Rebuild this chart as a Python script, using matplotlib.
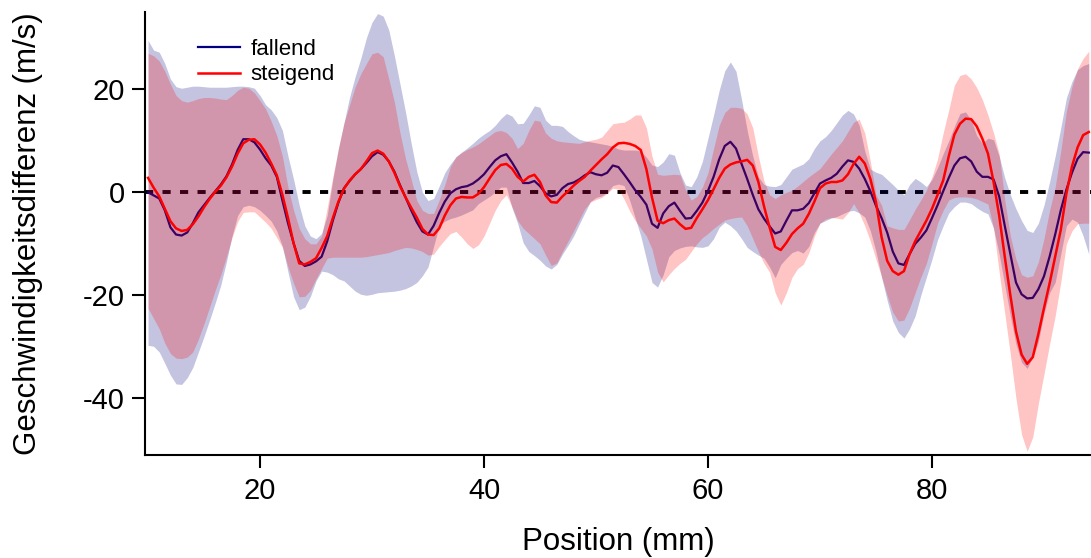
import matplotlib
matplotlib.use("Agg")
import matplotlib.pyplot as plt
import numpy as np

plt.rcParams.update({
    "font.family": ["Liberation Sans", "DejaVu Sans"],
    "font.size": 21,
    "axes.unicode_minus": False,
})

# position grid (mm), 0.5 mm steps from 10 to 94
position = np.arange(10.0, 94.01, 0.5)

# fallend: mean and band (m/s)
fallend_mean = [
    0.0, -0.6, -1.2, -3.5, -6.8, -8.2, -8.4, -7.8, -6.0, -3.9,
    -2.5, -1.1, 0.2, 1.5, 3.1, 5.4, 8.2, 10.3, 10.3, 9.7,
    8.3, 6.6, 5.2, 3.0, -1.6, -6.0, -9.9, -13.3, -14.3, -14.0,
    -13.4, -12.5, -9.5, -5.5, -2.0, 0.8, 2.2, 3.5, 4.5, 5.7,
    7.0, 7.8, 7.3, 6.0, 4.0, 1.4, -1.0, -3.5, -5.8, -7.6,
    -8.2, -6.5, -4.0, -1.8, -0.2, 0.6, 1.0, 1.2, 1.7, 2.5,
    3.5, 4.9, 6.2, 7.0, 7.4, 5.8, 4.0, 1.8, 1.8, 2.2,
    1.2, -0.2, -0.8, -0.5, 0.8, 1.6, 1.9, 2.5, 3.3, 3.9,
    3.5, 3.3, 3.8, 5.2, 4.9, 3.5, 2.0, 0.4, -0.9, -2.4,
    -6.1, -6.9, -4.1, -2.7, -2.0, -3.6, -5.1, -5.0, -3.6, -2.0,
    0.3, 3.0, 6.4, 9.0, 9.8, 8.5, 5.5, 2.6, -0.5, -3.3,
    -5.1, -6.6, -8.0, -7.6, -5.5, -3.5, -3.5, -3.2, -2.1, -0.2,
    1.7, 2.3, 2.8, 3.6, 5.0, 6.2, 5.9, 4.6, 2.6, 0.2,
    -2.6, -5.0, -7.8, -11.5, -13.8, -14.1, -12.0, -10.0, -8.8, -7.4,
    -5.0, -2.5, 0.2, 2.8, 5.2, 6.6, 6.9, 6.0, 4.0, 3.0,
    3.0, 2.5, -0.8, -6.5, -12.0, -17.5, -19.8, -20.6, -20.5, -18.8,
    -16.3, -12.5, -8.2, -3.5, 0.5, 3.8, 6.5, 7.8, 7.7,
]
fallend_upper = [
    29.5, 27.6, 27.2, 25.0, 22.0, 20.5, 20.2, 20.4, 20.6, 20.6,
    20.5, 20.4, 20.4, 20.4, 20.4, 20.5, 20.6, 20.6, 20.5, 20.2,
    18.8, 17.0, 16.0, 14.5, 12.0, 7.0, 2.5, -2.5, -6.5, -8.5,
    -9.0, -8.0, -4.5, 2.5, 8.5, 13.5, 18.5, 22.5, 26.0, 30.0,
    33.0, 34.7, 34.2, 31.5, 26.5, 21.0, 15.5, 9.5, 4.0, 0.0,
    -1.6, -1.2, 1.2, 3.8, 5.5, 6.9, 7.8, 8.6, 9.5, 10.5,
    11.3, 12.0, 13.0, 14.3, 15.3, 14.8, 13.3, 13.4, 15.0, 16.8,
    16.5, 14.0, 13.0, 13.0, 12.8, 11.8, 11.0, 10.3, 10.0, 9.8,
    9.6, 9.4, 9.2, 8.9, 8.4, 8.2, 8.2, 8.2, 8.0, 6.8,
    5.3, 5.0, 5.9, 7.5, 7.2, 3.8, 1.4, 1.1, 3.0, 6.0,
    10.5, 15.0, 19.8, 23.6, 25.3, 23.5, 18.0, 12.0, 7.0, 3.0,
    1.5, 1.2, 1.1, 1.5, 3.0, 4.5, 5.0, 5.5, 6.5, 8.5,
    10.0, 10.8, 12.0, 13.5, 15.0, 15.9, 15.2, 13.0, 8.0, 4.5,
    3.9, 3.5, 2.5, 1.5, 0.4, -0.5, 1.5, 2.7, 2.0, 1.1,
    2.5, 4.8, 7.5, 10.0, 12.8, 15.3, 15.6, 14.0, 11.0, 9.5,
    10.5, 10.2, 7.0, 2.8, -0.5, -3.2, -5.5, -7.4, -7.8, -6.0,
    -2.5, 2.0, 7.0, 12.5, 18.3, 21.5, 23.8, 24.6, 25.0,
]
fallend_lower = [
    -29.7, -29.9, -31.0, -33.2, -35.5, -37.2, -37.3, -36.0, -34.0, -31.0,
    -28.0, -24.8, -21.5, -18.0, -13.5, -8.5, -4.5, -2.8, -2.5, -2.8,
    -3.5, -4.5, -5.6, -7.5, -10.5, -15.5, -20.3, -22.8, -22.3, -20.2,
    -17.2, -15.3, -15.5, -16.0, -16.8, -17.2, -18.2, -19.2, -19.8, -20.0,
    -19.8, -19.5, -19.4, -19.3, -19.2, -19.0, -18.7, -18.2, -17.5, -16.2,
    -14.5, -10.5, -6.5, -5.6, -5.1, -4.8, -4.4, -3.9, -3.4, -2.2,
    -1.5, -0.8, 0.0, 1.0, 1.0, -3.0, -6.0, -9.8, -11.5, -12.3,
    -13.2, -14.3, -14.9, -14.0, -12.0, -10.3, -8.5, -6.2, -4.0, -1.8,
    -1.0, -0.7, 0.0, 1.3, 1.6, 1.3, -1.5, -5.0, -8.5, -13.0,
    -17.5, -18.4, -16.0, -12.5, -11.3, -10.8, -10.5, -10.4, -10.6, -10.7,
    -10.4, -9.0, -6.8, -5.8, -6.5, -7.5, -9.0, -10.7, -11.5, -12.2,
    -12.8, -14.5, -16.6, -14.0, -12.8, -11.7, -11.3, -11.8, -10.5, -7.8,
    -6.0, -5.5, -5.0, -4.7, -4.2, -3.7, -3.5, -4.0, -4.8, -7.5,
    -11.5, -16.5, -21.0, -25.0, -27.2, -28.3, -26.5, -24.0, -20.0, -16.5,
    -13.0, -9.2, -6.5, -4.0, -2.8, -1.9, -1.9, -2.2, -3.0, -3.7,
    -4.2, -7.0, -12.0, -18.0, -24.0, -29.5, -33.0, -34.2, -32.0, -29.0,
    -23.5, -19.5, -17.5, -12.0, -6.5, -5.2, -5.8, -8.5, -12.0,
]

# steigend: mean and band (m/s)
steigend_mean = [
    2.8, 0.9, -0.8, -3.2, -5.6, -7.0, -7.5, -7.3, -6.2, -4.7,
    -2.9, -1.3, 0.1, 1.3, 2.9, 5.0, 7.5, 9.5, 10.2, 10.3,
    9.3, 7.7, 5.6, 3.3, -0.5, -5.0, -9.9, -13.8, -14.0, -13.5,
    -12.8, -10.8, -8.5, -5.0, -1.8, 0.7, 2.3, 3.5, 4.5, 6.0,
    7.6, 8.1, 7.5, 6.0, 3.8, 1.2, -1.0, -3.0, -4.9, -7.1,
    -8.2, -8.3, -7.0, -4.5, -2.5, -1.2, -0.9, -1.0, -1.0, -0.3,
    1.0, 2.7, 4.3, 5.3, 5.5, 4.6, 3.0, 2.1, 3.0, 3.4,
    2.0, -0.6, -1.9, -2.0, -0.8, 0.2, 1.3, 2.2, 3.0, 4.2,
    5.3, 6.4, 7.4, 8.7, 9.5, 9.6, 9.4, 9.0, 8.2, 4.5,
    -1.0, -5.5, -6.0, -5.4, -5.1, -6.2, -7.1, -6.9, -5.0, -3.3,
    -1.5, 0.6, 2.8, 4.6, 5.4, 5.8, 6.0, 6.3, 5.2, 2.0,
    -2.7, -6.8, -10.6, -11.2, -9.8, -8.1, -7.0, -6.1, -4.2, -1.8,
    0.8, 1.7, 2.0, 2.0, 2.3, 3.5, 5.5, 6.9, 5.6, 2.6,
    -1.9, -8.7, -13.3, -15.3, -16.0, -15.3, -12.0, -9.5, -7.5, -5.5,
    -3.2, -0.5, 2.3, 7.0, 11.2, 13.3, 14.3, 14.2, 12.8, 10.4,
    7.5, 2.0, -4.5, -12.5, -20.0, -27.0, -31.5, -33.3, -32.0, -27.5,
    -22.5, -17.7, -12.5, -7.3, -0.3, 5.0, 8.7, 11.1, 11.7,
]
steigend_upper = [
    27.0, 26.5, 25.5, 23.5, 21.0, 18.8, 17.8, 17.5, 17.8, 18.2,
    18.4, 18.4, 18.3, 18.1, 18.0, 18.8, 19.8, 20.4, 20.2, 19.3,
    17.8, 16.2, 13.8, 11.0, 7.0, 1.0, -3.5, -7.0, -9.0, -10.0,
    -10.0, -8.5, -3.0, 3.0, 8.5, 13.5, 17.0, 20.5, 23.0, 25.0,
    26.9, 27.2, 26.3, 22.0, 17.5, 11.5, 6.5, 2.5, -1.6, -3.5,
    -4.1, -4.1, -1.5, 1.5, 5.0, 6.9, 7.7, 8.3, 8.8, 9.4,
    10.2, 11.0, 11.8, 12.0, 11.6, 10.5, 8.5, 9.5, 12.0, 14.0,
    13.8, 11.5, 10.5, 10.0, 9.8, 9.7, 9.6, 9.5, 9.8, 10.1,
    10.3, 10.7, 12.0, 13.3, 13.5, 13.6, 14.2, 15.0, 15.0, 12.5,
    7.0, 3.5, 3.3, 3.4, 3.5, 3.4, 0.5, -1.5, -0.8, 1.0,
    3.8, 8.5, 13.0, 15.5, 16.5, 16.5, 16.3, 15.2, 12.5, 7.0,
    2.2, -0.5, -1.2, -0.5, 0.0, 0.4, 1.2, 2.1, 3.0, 3.8,
    4.6, 6.0, 7.4, 8.7, 10.0, 11.8, 13.6, 14.2, 11.5, 6.0,
    -0.5, -2.5, -6.5, -6.9, -7.2, -7.2, -5.3, -3.3, -1.5, 0.4,
    3.0, 6.5, 11.5, 16.0, 20.8, 22.7, 23.0, 22.0, 20.3, 18.0,
    15.0, 11.5, 7.5, -1.5, -8.5, -13.0, -16.0, -16.5, -16.2, -13.5,
    -9.0, -3.5, 1.0, 8.0, 15.7, 20.5, 24.0, 26.0, 27.4,
]
steigend_lower = [
    -22.5, -24.5, -26.5, -29.3, -31.3, -32.2, -32.3, -32.0, -31.0, -28.5,
    -25.5, -22.3, -19.0, -16.0, -12.5, -8.8, -5.7, -3.9, -3.8, -3.8,
    -4.8, -5.8, -7.0, -8.8, -10.7, -14.5, -17.7, -20.3, -20.2, -19.0,
    -16.8, -14.8, -12.8, -12.6, -12.6, -12.6, -12.6, -12.6, -12.6, -12.5,
    -12.3, -12.1, -11.9, -11.7, -11.3, -11.0, -10.7, -10.8, -11.1, -11.5,
    -12.2, -12.0, -10.5, -9.2, -8.0, -7.6, -8.7, -10.0, -10.9, -10.2,
    -8.5, -6.0, -3.5, -1.6, -0.5, -2.8, -5.5, -7.0, -8.0, -9.0,
    -10.0, -12.2, -14.2, -13.7, -11.5, -9.5, -7.5, -5.3, -3.2, -1.9,
    -1.4, -1.0, -0.2, 0.8, 0.6, -1.3, -3.6, -5.5, -7.0, -8.5,
    -11.0, -15.5, -17.4, -16.0, -14.8, -13.8, -13.0, -11.5, -10.0, -8.8,
    -8.0, -7.0, -6.2, -5.4, -5.1, -4.9, -4.8, -6.5, -9.0, -11.5,
    -13.8, -15.5, -19.5, -21.9, -19.5, -16.5, -14.8, -14.0, -11.8, -8.5,
    -6.0, -5.2, -4.9, -5.0, -5.2, -4.0, -2.2, -4.0, -6.5, -9.5,
    -13.0, -16.4, -20.0, -23.3, -25.0, -24.8, -22.5, -19.5, -16.5, -13.8,
    -10.0, -6.0, -3.5, -1.5, -1.0, -0.9, -0.9, -1.0, -1.3, -1.8,
    -2.3, -7.0, -15.5, -23.5, -31.5, -40.0, -47.0, -50.3, -47.5, -41.0,
    -35.3, -29.5, -24.0, -17.5, -10.0, -7.5, -6.1, -6.0, -6.0,
]

x_ticks = [20, 40, 60, 80]
y_ticks = [-40, -20, 0, 20]

fig = plt.figure(figsize=(10.91, 5.58), dpi=100)
ax = fig.add_axes([145 / 1091, 1 - 455 / 558, 946 / 1091, 443 / 558])

navy = "#000080"
red = "#ff0000"

# zero reference line first so the bands tint it
ax.axhline(0, color="black", lw=2.8, ls=(0, (2.1, 2.4)), zorder=1)

ax.fill_between(position, fallend_lower, fallend_upper, color=navy, alpha=0.23, lw=0, zorder=2)
ax.plot(position, fallend_mean, color=navy, lw=1.6, label="fallend", zorder=3)
ax.fill_between(position, steigend_lower, steigend_upper, color=red, alpha=0.23, lw=0, zorder=4)
ax.plot(position, steigend_mean, color=red, lw=1.8, label="steigend", zorder=5)

ax.set_xlim(9.73, 94.2)
ax.set_ylim(-51, 35)
ax.set_xticks(x_ticks)
ax.set_yticks(y_ticks)

for side in ["top", "right"]:
    ax.spines[side].set_visible(False)
for side in ["left", "bottom"]:
    ax.spines[side].set_linewidth(1.5)
ax.tick_params(direction="out", length=9.5, width=1.5, labelsize=21)
ax.tick_params(axis="x", pad=6)
ax.tick_params(axis="y", pad=5)

ax.set_xlabel("Position (mm)", fontsize=22.5)
ax.set_ylabel("Geschwindigkeitsdifferenz (m/s)", fontsize=22.5)
ax.xaxis.set_label_coords(0.5, -0.163)
ax.yaxis.set_label_coords(-0.108, 0.5)

ax.legend(loc="upper left", bbox_to_anchor=(0.056, 0.939), frameon=False,
          fontsize=16, handlelength=1.9, handletextpad=0.45,
          labelspacing=0.2, borderpad=0, borderaxespad=0)

fig.savefig("out.png", dpi=100)
